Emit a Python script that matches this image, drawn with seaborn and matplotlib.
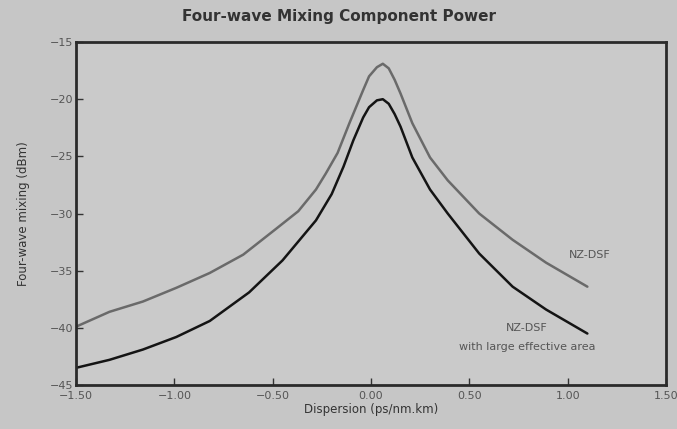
import pandas as pd
import matplotlib
matplotlib.use('Agg')
import matplotlib.pyplot as plt
import seaborn as sns

# Data
disp_nz = [-1.50, -1.33, -1.16, -0.99, -0.82, -0.65, -0.48, -0.37, -0.28, -0.23, -0.17, -0.11,
           -0.04, -0.01, 0.03, 0.06, 0.09, 0.12, 0.15, 0.21, 0.30, 0.39, 0.55, 0.72, 0.89, 1.10]
fwm_nz = [-39.9, -38.6, -37.7, -36.5, -35.2, -33.6, -31.3, -29.8, -27.9, -26.5, -24.7, -22.1,
          -19.2, -18.0, -17.2, -16.9, -17.3, -18.3, -19.5, -22.1, -25.1, -27.1, -30.0, -32.3,
          -34.3, -36.4]

disp_lea = [-1.50, -1.33, -1.16, -0.99, -0.82, -0.62, -0.45, -0.28, -0.20, -0.14, -0.09, -0.04,
            -0.01, 0.03, 0.06, 0.09, 0.12, 0.15, 0.21, 0.30, 0.39, 0.55, 0.72, 0.89, 1.10]
fwm_lea = [-43.5, -42.8, -41.9, -40.8, -39.4, -36.9, -34.1, -30.6, -28.3, -25.9, -23.6, -21.6,
           -20.7, -20.1, -20.0, -20.4, -21.3, -22.4, -25.1, -27.9, -30.0, -33.5, -36.4,
           -38.4, -40.5]

x_ticks = [-1.5, -1.0, -0.5, 0.0, 0.5, 1.0, 1.5]
y_ticks = [-15, -20, -25, -30, -35, -40, -45]

df = pd.concat([
    pd.DataFrame({'Dispersion': disp_nz, 'FWM': fwm_nz, 'Fibre': 'NZ-DSF'}),
    pd.DataFrame({'Dispersion': disp_lea, 'FWM': fwm_lea, 'Fibre': 'NZ-DSF large area'}),
])

sns.set_style('ticks')
plt.rcParams['font.family'] = ['Liberation Sans Narrow', 'DejaVu Sans Condensed', 'DejaVu Sans']

bg = '#c6c6c6'
fig = plt.figure(figsize=(6.77, 4.29), dpi=100, facecolor=bg)
ax = fig.add_axes([0.1123, 0.1026, 0.8715, 0.7994])
ax.set_facecolor('#cacaca')

sns.lineplot(data=df, x='Dispersion', y='FWM', hue='Fibre',
             palette={'NZ-DSF': '#6a6a6a', 'NZ-DSF large area': '#141414'},
             linewidth=1.8, legend=False, ax=ax, solid_joinstyle='round')

ax.set_xlim(-1.5, 1.5)
ax.set_ylim(-45, -15)
ax.set_xticks(x_ticks)
ax.set_xticklabels(['\u2212%.2f' % abs(v) if v < 0 else '%.2f' % v for v in x_ticks])
ax.set_yticks(y_ticks)
ax.set_yticklabels(['\u2212%d' % abs(v) for v in y_ticks])
ax.tick_params(axis='both', direction='in', length=5, width=1.0, color='#333333',
               labelsize=8, labelcolor='#555555')
ax.tick_params(axis='x', pad=4)
ax.tick_params(axis='y', pad=2)

for side in ['left', 'right', 'top', 'bottom']:
    ax.spines[side].set_visible(True)
    ax.spines[side].set_color('#2a2a2a')
    ax.spines[side].set_linewidth(2.0)

ax.set_xlabel('Dispersion (ps/nm.km)', fontsize=8.5, color='#333333', labelpad=2)
ax.set_ylabel('Four-wave mixing (dBm)', fontsize=8.5, color='#333333', labelpad=14)
fig.text(0.5, 0.962, 'Four-wave Mixing Component Power', ha='center', va='center',
         fontsize=11, fontweight='bold', color='#333333')

ax.text(1.113, -33.6, 'NZ-DSF', ha='center', va='center', fontsize=8, color='#555555')
ax.text(0.793, -40.0, 'NZ-DSF', ha='center', va='center', fontsize=8, color='#555555')
ax.text(0.793, -41.7, 'with large effective area', ha='center', va='center',
        fontsize=8, color='#555555')

plt.savefig('out.png', dpi=100, facecolor=bg)
